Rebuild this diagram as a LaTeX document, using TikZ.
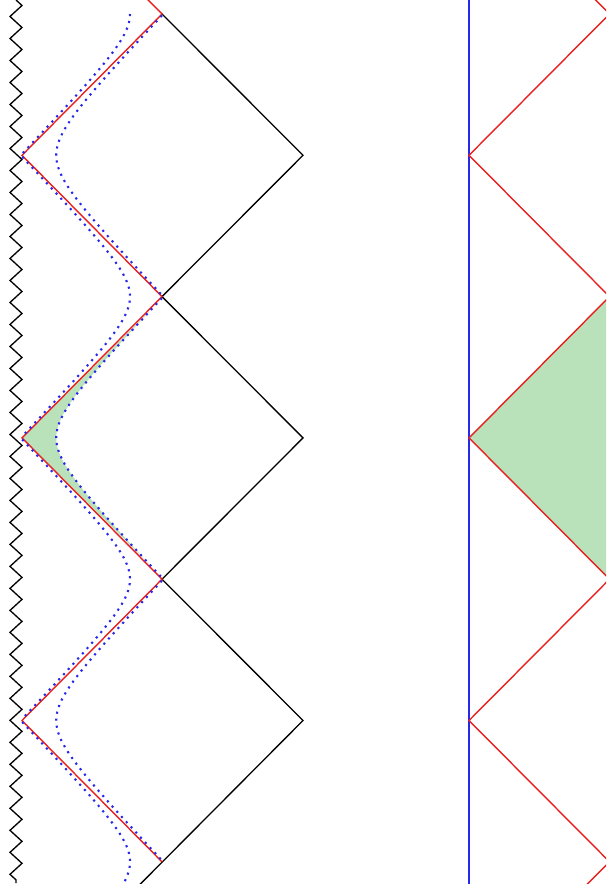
\documentclass[tikz,border=0pt]{standalone}
\usepackage{tikz}
\usetikzlibrary{decorations.pathmorphing}
\definecolor{wedgegreen}{RGB}{186,226,186}
\definecolor{horizonred}{RGB}{232,32,32}
\definecolor{wallblue}{RGB}{40,40,235}

\begin{document}
\begin{tikzpicture}[x=0.02cm, y=-0.02cm,
  sing/.style={decorate, decoration={zigzag, segment length=0.44cm, amplitude=0.12cm}, line width=0.75pt},
  edge/.style={line width=0.75pt},
  horizon/.style={horizonred, line width=0.8pt},
  brane/.style={wallblue, line width=1.2pt, dash pattern=on 1.2pt off 2.8pt},
  wall/.style={wallblue, line width=1.2pt}]
  \useasboundingbox (0,0) rectangle (606,888);
  \clip (0,0) rectangle (606,883);

  % Left diagram: corners of the diamonds
  \coordinate (a0) at (22,-127);
  \coordinate (a1) at (22,155.3);
  \coordinate (a2) at (22,437.9);
  \coordinate (a3) at (22,720.5);
  \coordinate (a4) at (22,1003);
  \coordinate (b0) at (162,14);
  \coordinate (b1) at (162,296.6);
  \coordinate (b2) at (162,579.2);
  \coordinate (b3) at (162,861.8);
  \coordinate (c1) at (303,155.3);
  \coordinate (c2) at (303,437.9);
  \coordinate (c3) at (303,720.5);
  \coordinate (s0) at (16,0);
  \coordinate (s1) at (16,883);

  % Shaded wedge between horizon and brane
  \fill[wedgegreen, shift={(a2)}] (0,0)
    -- plot[domain=-3.5:3.5, samples=80]
       ({1.5667*(atan(0.1930*exp(\x))+atan(0.1930*exp(-\x)))},
        {1.5667*(atan(0.1930*exp(\x))-atan(0.1930*exp(-\x)))}) -- cycle;

  % Singularity
  \draw[sing] (s0) -- (s1);

  % Outer edges
  \draw[edge] (b0) -- (c1) -- (b1) -- (c2) -- (b2) -- (c3) -- (a4);

  % Horizons
  \draw[horizon] (a0) -- (b0) -- (a1) -- (b1) -- (a2) -- (b2) -- (a3) -- (b3);

  % Brane trajectories, bulging left
  \draw[brane, shift={(a1)}] plot[domain=-6:6, samples=120]
    ({1.5667*(atan(0.1930*exp(\x))+atan(0.1930*exp(-\x)))},
     {1.5667*(atan(0.1930*exp(\x))-atan(0.1930*exp(-\x)))});
  \draw[brane, shift={(a2)}] plot[domain=-6:6, samples=120]
    ({1.5667*(atan(0.1930*exp(\x))+atan(0.1930*exp(-\x)))},
     {1.5667*(atan(0.1930*exp(\x))-atan(0.1930*exp(-\x)))});
  \draw[brane, shift={(a3)}] plot[domain=-6:6, samples=120]
    ({1.5667*(atan(0.1930*exp(\x))+atan(0.1930*exp(-\x)))},
     {1.5667*(atan(0.1930*exp(\x))-atan(0.1930*exp(-\x)))});
  % Brane trajectories, bulging right
  \draw[brane, shift={(b0)}] plot[domain=0:6, samples=60]
    ({-1.5667*(atan(0.1801*exp(\x))+atan(0.1801*exp(-\x)))},
     {1.5667*(atan(0.1801*exp(\x))-atan(0.1801*exp(-\x)))});
  \draw[brane, shift={(b1)}] plot[domain=-6:6, samples=120]
    ({-1.5667*(atan(0.1801*exp(\x))+atan(0.1801*exp(-\x)))},
     {1.5667*(atan(0.1801*exp(\x))-atan(0.1801*exp(-\x)))});
  \draw[brane, shift={(b2)}] plot[domain=-6:6, samples=120]
    ({-1.5667*(atan(0.1801*exp(\x))+atan(0.1801*exp(-\x)))},
     {1.5667*(atan(0.1801*exp(\x))-atan(0.1801*exp(-\x)))});
  \draw[brane, shift={(b3)}] plot[domain=-6:1, samples=100]
    ({-1.5667*(atan(0.1801*exp(\x))+atan(0.1801*exp(-\x)))},
     {1.5667*(atan(0.1801*exp(\x))-atan(0.1801*exp(-\x)))});

  % Right diagram
  \coordinate (d0) at (469,-127);
  \coordinate (d1) at (469,155.3);
  \coordinate (d2) at (469,437.9);
  \coordinate (d3) at (469,720.5);
  \coordinate (d4) at (469,1003);
  \coordinate (e0) at (609.5,14);
  \coordinate (e1) at (609.5,296.6);
  \coordinate (e2) at (609.5,579.2);
  \coordinate (e3) at (609.5,861.8);
  \coordinate (f2) at (750,437.9);
  \coordinate (w0) at (469,0);
  \coordinate (w1) at (469,888);

  \fill[wedgegreen] (d2) -- (e1) -- (f2) -- (e2) -- cycle;
  \draw[wall] (w0) -- (w1);
  \draw[horizon] (d0) -- (e0) -- (d1) -- (e1) -- (d2) -- (e2) -- (d3) -- (e3) -- (d4);
\end{tikzpicture}
\end{document}
